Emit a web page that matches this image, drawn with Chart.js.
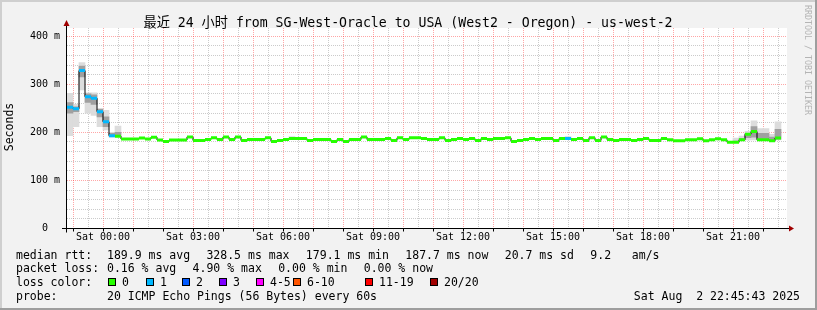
<!DOCTYPE html>
<html>
<head>
<meta charset="utf-8">
<script src="https://cdn.jsdelivr.net/npm/chart.js@4.4.0/dist/chart.umd.min.js"></script>
<style>
  html, body { margin: 0; padding: 0; background: #f2f2f2; }
  canvas { display: block; }
</style>
</head>
<body>
<canvas id="myChart" width="817" height="310"></canvas>
<script>
// smokeping style graph, last 24h, 12 minute steps
// time is in minutes, 0 = Sat 00:00

const binStart = -72;
const binMinutes = 12;

// median rtt per step (ms)
const median = [
  252, 249, 328.5, 274, 271, 243, 222, 193, 192, 186,
  186, 186, 188, 186, 190, 184, 181, 184, 184, 184,
  190.5, 183, 183, 185, 188.5, 185, 190.5, 185, 190.5, 183,
  185, 185, 185, 188.5, 181, 183, 185, 187, 187, 187,
  183, 185, 185, 185, 181, 185, 181, 185, 185, 190.5,
  185, 185, 185, 187, 183, 188.5, 185, 188.5, 188.5, 187,
  185, 185, 188.5, 183, 185, 187, 185, 187, 183, 187,
  185, 187, 187, 188.5, 181, 183, 185, 187, 185, 187,
  187, 183, 187, 187, 185, 187, 183, 189, 183, 190.5,
  185, 183, 185, 185, 183, 185, 187, 183, 183, 187,
  184.5, 182.5, 182.5, 184.5, 184.5, 186.5, 182.5, 184.5, 186.5, 184.5,
  179.5, 179.5, 184.5, 196, 201.5, 184.5, 184.5, 182.5, 188, null
];

// lost pings (of 20) per step
const loss = [
  1, 1, 1, 1, 1, 1, 1, 1, 0, 0,
  0, 0, 0, 0, 0, 0, 0, 0, 0, 0,
  0, 0, 0, 0, 0, 0, 0, 0, 0, 0,
  0, 0, 0, 0, 0, 0, 0, 0, 0, 0,
  0, 0, 0, 0, 0, 0, 0, 0, 0, 0,
  0, 0, 0, 0, 0, 0, 0, 0, 0, 0,
  0, 0, 0, 0, 0, 0, 0, 0, 0, 0,
  0, 0, 0, 0, 0, 0, 0, 0, 0, 0,
  0, 0, 0, 1, 0, 0, 0, 0, 0, 0,
  0, 0, 0, 0, 0, 0, 0, 0, 0, 0,
  0, 0, 0, 0, 0, 0, 0, 0, 0, 0,
  0, 0, 0, 0, 0, 0, 0, 0, 0, null
];

// smoke (spread of the pings) where it is visible
const smokeBins = [0, 1, 2, 3, 4, 5, 6, 7, 8, 37, 83, 111, 112, 113, 114, 115, 116, 117, 118];
const smokeMin  = [193, 212, 288, 240, 235, 212, 205, 190, 190, 186, 186, 179, 183, 184, 184, 184, 184, 182, 184];
const smokeMax  = [281, 258, 345, 282, 282, 250, 246, 200, 213, 191, 191, 188, 192, 202, 224, 208, 208, 196, 222];
const smokeLo   = [240, 243, 315, 262, 258, 232, 212, 192, 192, 186, 186, 179, 184, 189, 190, 186, 186, 183, 186];
const smokeHi   = [262, 253, 338, 280, 278, 248, 232, 198, 200, 188, 188, 182, 187, 198, 212, 198, 198, 190, 206];

// x axis labels
const tickMinutes = [0, 180, 360, 540, 720, 900, 1080, 1260];
const tickLabels = ['Sat 00:00', 'Sat 03:00', 'Sat 06:00', 'Sat 09:00', 'Sat 12:00', 'Sat 15:00', 'Sat 18:00', 'Sat 21:00'];

// legend texts
const rttItems = ['189.9 ms avg', '328.5 ms max', '179.1 ms min', '187.7 ms now', '20.7 ms sd', '9.2   am/s'];
const lossItems = ['0.16 % avg', '4.90 % max', '0.00 % min', '0.00 % now'];
const lossNames = ['0', '1', '2', '3', '4-5', '6-10', '11-19', '20/20'];
const lossColors = ['#26ff00', '#00b8ff', '#0059ff', '#7e00ff', '#ff00ff', '#ff5500', '#ff0000', '#a10000'];
const lossBoxX = [108, 146, 182, 219, 256, 293, 365, 430];

const FONT = '"DejaVu Sans Mono", "Noto Sans CJK SC", monospace';
Chart.defaults.font.family = FONT;

function lossLevel(n) {
  if (n <= 3) return n;
  if (n <= 5) return 4;
  if (n <= 10) return 5;
  if (n <= 19) return 6;
  return 7;
}

const binX = median.map((_, i) => binStart + i * binMinutes);

// thin black step line
const stepData = [];
let lastI = 0;
median.forEach((v, i) => {
  if (v == null) return;
  stepData.push({ x: binX[i], y: v });
  lastI = i;
});
stepData.push({ x: binX[lastI] + binMinutes, y: median[lastI] });

// coloured median pieces, one dataset per loss colour
const lossSets = lossColors.map((color, k) => {
  const pts = [];
  median.forEach((v, i) => {
    if (v == null || lossLevel(loss[i]) !== k) return;
    pts.push({ x: binX[i], y: v }, { x: binX[i] + binMinutes, y: v }, { x: binX[i] + binMinutes, y: null });
  });
  return {
    type: 'line',
    data: pts,
    borderColor: color,
    borderWidth: 3,
    borderCapStyle: 'butt',
    pointRadius: 0,
    spanGaps: false,
    order: 1
  };
}).filter(d => d.data.length);

const smokeOuter = smokeBins.map((b, j) => ({ x: binX[b] + binMinutes / 2, y: [smokeMin[j], smokeMax[j]] }));
const smokeInner = smokeBins.map((b, j) => ({ x: binX[b] + binMinutes / 2, y: [smokeLo[j], smokeHi[j]] }));

const gridMinutes = [];
for (let m = -60; m < 1368; m += 30) gridMinutes.push(m);
const gridValues = [];
for (let v = 0; v <= 400; v += 20) gridValues.push(v);

const majorGrid = 'rgba(255, 0, 0, 0.35)';
const minorGrid = 'rgba(140, 140, 140, 0.45)';

// rrdtool puts a bit more than two spaces between legend items
function drawItems(ctx, items, x, y) {
  const gap = ctx.measureText('  ').width + 2.5;
  items.forEach(t => {
    ctx.fillText(t, x, y);
    x += ctx.measureText(t).width + gap;
  });
}

const decor = {
  id: 'decor',
  beforeDraw(chart) {
    const { ctx, chartArea: a, width, height } = chart;
    ctx.save();
    ctx.fillStyle = '#f2f2f2';
    ctx.fillRect(0, 0, width, height);
    ctx.fillStyle = '#cfcfcf';
    ctx.fillRect(0, 0, width, 2);
    ctx.fillRect(0, 0, 2, height);
    ctx.fillStyle = '#9e9e9e';
    ctx.fillRect(0, height - 2, width, 2);
    ctx.fillRect(width - 2, 0, 2, height);
    ctx.fillStyle = '#ffffff';
    ctx.fillRect(a.left, a.top, a.right - a.left, a.bottom - a.top);
    ctx.restore();
  },
  afterDatasetsDraw(chart) {
    const { ctx, chartArea: a } = chart;
    const y0 = Math.floor(chart.scales.y.getPixelForValue(0)) + 0.5;
    const x0 = Math.floor(a.left) - 0.5;
    ctx.save();
    ctx.strokeStyle = '#000';
    ctx.lineWidth = 1;
    ctx.beginPath();
    ctx.moveTo(a.left - 5, y0);
    ctx.lineTo(a.right + 3, y0);
    ctx.moveTo(x0, y0 + 4);
    ctx.lineTo(x0, a.top - 3);
    ctx.stroke();
    ctx.fillStyle = '#a00000';
    ctx.beginPath();
    ctx.moveTo(a.right + 2, y0 - 3);
    ctx.lineTo(a.right + 7, y0);
    ctx.lineTo(a.right + 2, y0 + 3);
    ctx.fill();
    ctx.beginPath();
    ctx.moveTo(x0 - 3, a.top - 2);
    ctx.lineTo(x0, a.top - 8);
    ctx.lineTo(x0 + 3, a.top - 2);
    ctx.fill();
    ctx.restore();
  },
  afterDraw(chart) {
    const ctx = chart.ctx;
    ctx.save();
    ctx.fillStyle = '#000';

    ctx.font = '13.2px ' + FONT;
    ctx.textAlign = 'center';
    ctx.textBaseline = 'alphabetic';
    ctx.fillText('最近 24 小时 from SG-West-Oracle to USA (West2 - Oregon) - us-west-2', 408, 26.5);

    // y axis unit
    ctx.save();
    ctx.translate(10.5, 127);
    ctx.rotate(-Math.PI / 2);
    ctx.font = '11.5px ' + FONT;
    ctx.textBaseline = 'middle';
    ctx.fillText('Seconds', 0, 0);
    ctx.restore();

    // watermark
    ctx.save();
    ctx.translate(807, 5);
    ctx.rotate(Math.PI / 2);
    ctx.font = '8.3px ' + FONT;
    ctx.textAlign = 'left';
    ctx.textBaseline = 'middle';
    ctx.fillStyle = '#b4b4b4';
    ctx.fillText('RRDTOOL / TOBI OETIKER', 0, 0);
    ctx.restore();

    // legend
    ctx.font = '11.5px ' + FONT;
    ctx.textAlign = 'left';
    ctx.textBaseline = 'alphabetic';
    ctx.fillText('median rtt:', 16, 258.5);
    drawItems(ctx, rttItems, 107, 258.5);
    ctx.fillText('packet loss:', 16, 272.2);
    drawItems(ctx, lossItems, 107, 272.2);
    ctx.fillText('loss color:', 16, 285.8);
    lossNames.forEach((name, k) => {
      const bx = lossBoxX[k];
      ctx.fillStyle = lossColors[k];
      ctx.fillRect(bx, 278, 8, 8);
      ctx.strokeStyle = '#000';
      ctx.strokeRect(bx + 0.5, 278.5, 7, 7);
      ctx.fillStyle = '#000';
      ctx.fillText(name, bx + 14, 285.8);
    });
    ctx.fillText('probe:', 16, 299.5);
    ctx.fillText('20 ICMP Echo Pings (56 Bytes) every 60s', 107, 299.5);
    ctx.textAlign = 'right';
    ctx.fillText('Sat Aug  2 22:45:43 2025', 800, 299.5);
    ctx.restore();
  }
};

const canvas = document.getElementById('myChart');
const ctx = canvas.getContext('2d');
const chart = new Chart(ctx, {
  type: 'line',
  data: {
    datasets: [
      {
        type: 'bar',
        data: smokeOuter,
        backgroundColor: '#dcdcdc',
        borderWidth: 0,
        grouped: false,
        barPercentage: 1,
        categoryPercentage: 1,
        order: 4
      },
      {
        type: 'bar',
        data: smokeInner,
        backgroundColor: '#a0a0a0',
        borderWidth: 0,
        grouped: false,
        barPercentage: 1,
        categoryPercentage: 1,
        order: 3
      },
      {
        type: 'line',
        data: stepData,
        stepped: 'before',
        borderColor: '#000',
        borderWidth: 1,
        pointRadius: 0,
        order: 2
      },
      ...lossSets
    ]
  },
  options: {
    responsive: false,
    animation: false,
    devicePixelRatio: 1,
    events: [],
    layout: { padding: { left: 0, right: 30, top: 28, bottom: 0 } },
    plugins: {
      legend: { display: false },
      tooltip: { enabled: false },
      title: { display: false }
    },
    scales: {
      x: {
        type: 'linear',
        min: binStart,
        max: binStart + 120 * binMinutes,
        offset: false,
        afterBuildTicks: s => { s.ticks = gridMinutes.map(v => ({ value: v })); },
        afterFit: s => { s.height = 81.5; },
        grid: {
          offset: false,
          color: c => (c.tick && c.tick.value % 60 === 0) ? majorGrid : minorGrid,
          lineWidth: 1,
          drawTicks: true,
          tickLength: 3,
          tickColor: c => (c.tick && c.tick.value % 60 === 0) ? '#000' : 'rgba(0,0,0,0)'
        },
        border: { display: false, dash: [1, 1] },
        ticks: {
          autoSkip: false,
          maxRotation: 0,
          padding: 0,
          color: '#000',
          font: { size: 10 },
          callback: v => {
            const k = tickMinutes.indexOf(v);
            return k >= 0 ? tickLabels[k] : '';
          }
        }
      },
      y: {
        min: 0,
        max: 417,
        afterBuildTicks: s => { s.ticks = gridValues.map(v => ({ value: v })); },
        afterFit: s => { s.width = 67; },
        grid: {
          color: c => (c.tick && c.tick.value % 100 === 0) ? majorGrid : minorGrid,
          lineWidth: 1,
          drawTicks: false
        },
        border: { display: false, dash: [1, 1] },
        ticks: {
          autoSkip: false,
          padding: 7,
          color: '#000',
          font: { size: 10 },
          callback: v => {
            if (v % 100 !== 0) return '';
            return v === 0 ? '0  ' : v + ' m';
          }
        }
      }
    }
  },
  plugins: [decor]
});
</script>
